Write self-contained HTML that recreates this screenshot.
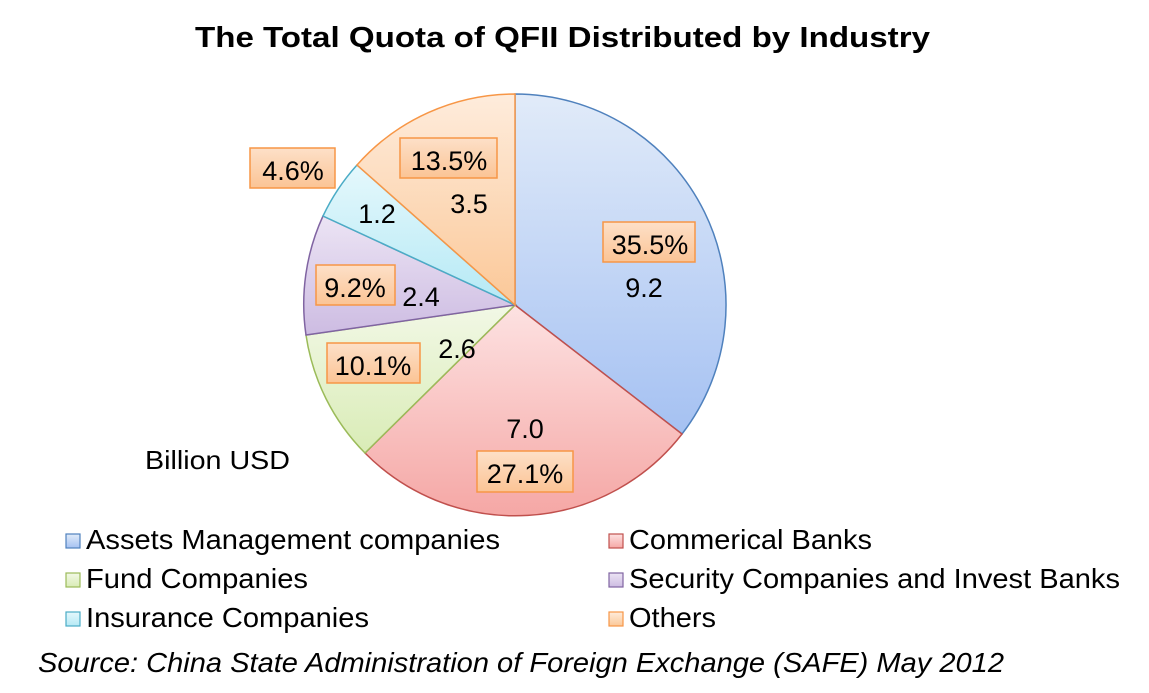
<!DOCTYPE html><html><head><meta charset="utf-8"><style>body{margin:0;background:#fff}svg{display:block}text{font-family:"Liberation Sans",Arial,sans-serif;fill:#000}</style></head><body>
<svg width="1149" height="693" viewBox="0 0 1149 693" xmlns="http://www.w3.org/2000/svg">
<defs>
<linearGradient id="gA" x1="0" y1="0" x2="0" y2="1"><stop offset="0" stop-color="#e1ebf9"/><stop offset="1" stop-color="#a5c1f2"/></linearGradient>
<linearGradient id="gB" x1="0" y1="0" x2="0" y2="1"><stop offset="0" stop-color="#fde2e2"/><stop offset="1" stop-color="#f5a7a5"/></linearGradient>
<linearGradient id="gC" x1="0" y1="0" x2="0" y2="1"><stop offset="0" stop-color="#f2f8e6"/><stop offset="1" stop-color="#d9ecb6"/></linearGradient>
<linearGradient id="gD" x1="0" y1="0" x2="0" y2="1"><stop offset="0" stop-color="#ece4f4"/><stop offset="1" stop-color="#cdbce2"/></linearGradient>
<linearGradient id="gE" x1="0" y1="0" x2="0" y2="1"><stop offset="0" stop-color="#e5f8fc"/><stop offset="1" stop-color="#b5e9f5"/></linearGradient>
<linearGradient id="gF" x1="0" y1="0" x2="0" y2="1"><stop offset="0" stop-color="#feecdc"/><stop offset="1" stop-color="#fbc898"/></linearGradient>
<linearGradient id="gL" x1="0" y1="0" x2="0" y2="1"><stop offset="0" stop-color="#fde0c8"/><stop offset="1" stop-color="#fbc495"/></linearGradient>
</defs>
<text x="195" y="47" font-size="29" font-weight="bold" textLength="735" lengthAdjust="spacingAndGlyphs">The Total Quota of QFII Distributed by Industry</text>
<g stroke-width="1.5">
<path d="M515,305 L515,94 A211,211 0 0 1 682,434 Z" fill="url(#gA)" stroke="#4f81bd"/>
<path d="M515,305 L682,434 A211,211 0 0 1 365,453 Z" fill="url(#gB)" stroke="#c0504d"/>
<path d="M515,305 L365,453 A211,211 0 0 1 306,335 Z" fill="url(#gC)" stroke="#9bbb59"/>
<path d="M515,305 L306,335 A211,211 0 0 1 323,216 Z" fill="url(#gD)" stroke="#8064a2"/>
<path d="M515,305 L323,216 A211,211 0 0 1 357,165 Z" fill="url(#gE)" stroke="#4bacc6"/>
<path d="M515,305 L357,165 A211,211 0 0 1 515,94 Z" fill="url(#gF)" stroke="#f79646"/>
</g>
<g fill="url(#gL)" stroke="#f79646" stroke-width="1.5">
<rect x="250" y="148" width="85" height="40"/>
<rect x="400" y="138" width="97" height="40"/>
<rect x="603" y="222" width="92" height="40"/>
<rect x="316" y="265" width="79" height="40"/>
<rect x="327" y="343" width="93" height="40"/>
<rect x="477" y="451" width="96" height="41"/>
</g>
<g font-size="27" text-anchor="middle">
<text x="293" y="180">4.6%</text>
<text x="449" y="170">13.5%</text>
<text x="650" y="254">35.5%</text>
<text x="355" y="297">9.2%</text>
<text x="373" y="375">10.1%</text>
<text x="525" y="483">27.1%</text>
<text x="469" y="213">3.5</text>
<text x="377" y="223">1.2</text>
<text x="644" y="297">9.2</text>
<text x="421" y="306">2.4</text>
<text x="457" y="358">2.6</text>
<text x="525" y="438">7.0</text>
</g>
<text x="145" y="469" font-size="26" textLength="145" lengthAdjust="spacingAndGlyphs">Billion USD</text>
<g stroke-width="1.2">
<rect x="66" y="534" width="14" height="14" fill="url(#gA)" stroke="#4f81bd"/>
<rect x="66" y="573" width="14" height="14" fill="url(#gC)" stroke="#9bbb59"/>
<rect x="66" y="612" width="14" height="14" fill="url(#gE)" stroke="#4bacc6"/>
<rect x="609" y="534" width="14" height="14" fill="url(#gB)" stroke="#c0504d"/>
<rect x="609" y="573" width="14" height="14" fill="url(#gD)" stroke="#8064a2"/>
<rect x="609" y="612" width="14" height="14" fill="url(#gF)" stroke="#f79646"/>
</g>
<g font-size="28" lengthAdjust="spacingAndGlyphs">
<text x="86" y="549" textLength="414" lengthAdjust="spacingAndGlyphs">Assets Management companies</text>
<text x="86" y="588" textLength="222" lengthAdjust="spacingAndGlyphs">Fund Companies</text>
<text x="86" y="627" textLength="283" lengthAdjust="spacingAndGlyphs">Insurance Companies</text>
<text x="629" y="549" textLength="243" lengthAdjust="spacingAndGlyphs">Commerical Banks</text>
<text x="629" y="588" textLength="491" lengthAdjust="spacingAndGlyphs">Security Companies and Invest Banks</text>
<text x="629" y="627" textLength="87" lengthAdjust="spacingAndGlyphs">Others</text>
</g>
<text x="38" y="672" font-size="28" font-style="italic" textLength="966" lengthAdjust="spacingAndGlyphs">Source: China State Administration of Foreign Exchange (SAFE) May 2012</text>
</svg>
</body></html>
